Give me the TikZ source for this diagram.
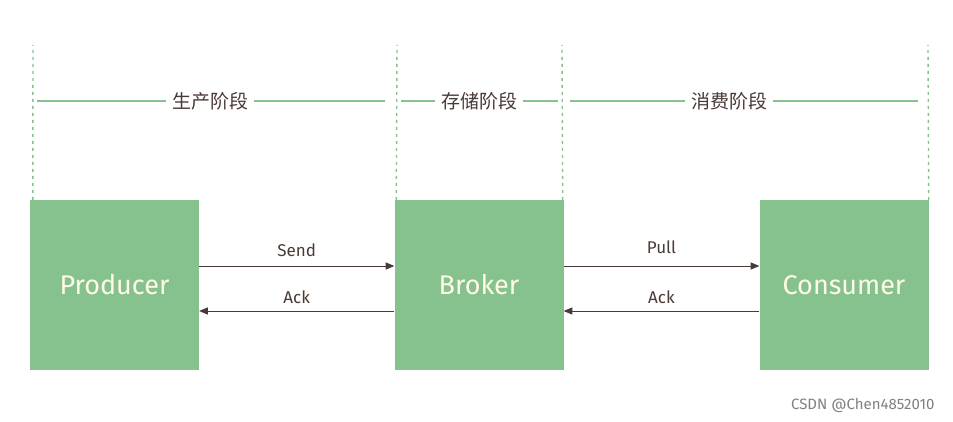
\documentclass[tikz,border=0pt]{standalone}
\usepackage{fontspec}
\setmainfont{Fira Sans}
\newfontfamily\cjk{Noto Sans CJK SC}
\usetikzlibrary{arrows}
\definecolor{boxgreen}{HTML}{86C28E}
\definecolor{inkbrown}{HTML}{4A3A35}
\definecolor{boxtext}{HTML}{FFFBE6}

\begin{document}
\begin{tikzpicture}[x=1pt, y=-1pt]
        \tikzstyle{every node} = [font=\fontsize{17}{20}\selectfont, text=inkbrown]
        \tikzstyle{actor} = [fill=boxgreen, minimum width=169pt, minimum height=170pt, inner sep=0pt, text=boxtext, font=\fontsize{27}{30}\selectfont]
        \tikzstyle{phase} = [fill=white, inner sep=6pt, font=\cjk\fontsize{19}{22}\selectfont]
        \tikzstyle{bound} = [boxgreen, line width=1.4pt, dash pattern=on 3pt off 4pt]
        \tikzstyle{msg} = [inkbrown, line width=1pt, -triangle 45]

        \useasboundingbox (0,0) rectangle (953,422);

        \node[actor] (producer) at (114.5,285) {Producer};
        \node[actor] (broker)   at (479,285)   {Broker};
        \node[actor] (consumer) at (844,285)   {Consumer};

        % stage boundaries
        \coordinate (b1) at (33,45);
        \coordinate (b2) at (397,45);
        \coordinate (b3) at (562,45);
        \coordinate (b4) at (928,45);
        \draw[bound] ([xshift=3pt]producer.north west) -- (b1);
        \draw[bound] ([xshift=2pt]broker.north west) -- (b2);
        \draw[bound] ([xshift=-1pt]broker.north east) -- (b3);
        \draw[bound] (consumer.north east) -- (b4);

        % stages
        \draw[boxgreen, line width=1.2pt] (37,101) -- (385,101);
        \draw[boxgreen, line width=1.2pt] (401,101) -- (558,101);
        \draw[boxgreen, line width=1.2pt] (570,101) -- (918,101);
        \node[phase] (produce) at (210,101) {生产阶段};
        \node[phase] (store)   at (479,101) {存储阶段};
        \node[phase] (consume) at (729,101) {消费阶段};

        % messages
        \draw[msg] ([yshift=19pt]producer.east) -- node[above=5pt] (send) {Send} ([yshift=19pt]broker.west);
        \draw[msg] ([yshift=-26pt]broker.west) -- node[above=3pt] (ack1) {Ack} ([yshift=-26pt]producer.east);
        \draw[msg] ([yshift=19pt]broker.east) -- node[above=8pt] (pull) {Pull} ([yshift=19pt]consumer.west);
        \draw[msg] ([yshift=-26pt]consumer.west) -- node[above=3pt] (ack2) {Ack} ([yshift=-26pt]broker.east);

        \node[text=gray, font=\fontsize{15}{18}\selectfont, anchor=east] (mark) at (938,405) {CSDN @Chen4852010};
\end{tikzpicture}
\end{document}
